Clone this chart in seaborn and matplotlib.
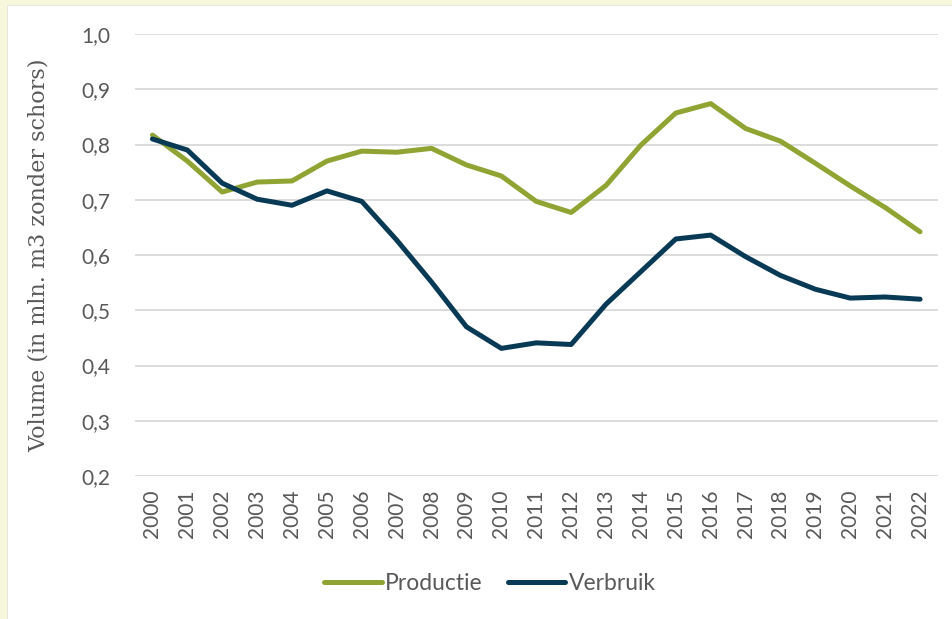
import matplotlib
matplotlib.use("Agg")
import matplotlib.pyplot as plt
import seaborn as sns
import pandas as pd
from matplotlib.patches import Rectangle
from matplotlib.ticker import FixedLocator, FuncFormatter

years = [str(y) for y in range(2000, 2023)]
productie = [0.817, 0.770, 0.714, 0.732, 0.734, 0.770, 0.788, 0.786, 0.793, 0.763,
             0.743, 0.697, 0.677, 0.726, 0.799, 0.857, 0.874, 0.829, 0.806, 0.766,
             0.725, 0.686, 0.642]
verbruik = [0.810, 0.790, 0.730, 0.701, 0.690, 0.716, 0.697, 0.627, 0.551, 0.470,
            0.431, 0.441, 0.438, 0.511, 0.570, 0.629, 0.636, 0.597, 0.563, 0.538,
            0.522, 0.524, 0.520]
series_names = ["Productie", "Verbruik"]
colors = ["#90A433", "#083A56"]
yticks = [0.2, 0.3, 0.4, 0.5, 0.6, 0.7, 0.8, 0.9, 1.0]

df = pd.DataFrame({
    "jaar": years * 2,
    "volume": productie + verbruik,
    "reeks": [series_names[0]] * len(years) + [series_names[1]] * len(years),
})

sns.set_theme(style="white")
plt.rcParams["font.family"] = ["Lato", "DejaVu Sans"]
grey = "#595959"

fig = plt.figure(figsize=(9.52, 6.19), dpi=100)
fig.patch.set_facecolor("white")
ax = fig.add_axes([135 / 952, 1 - 476 / 619, (937.5 - 135) / 952, (476 - 34) / 619])

sns.lineplot(data=df, x="jaar", y="volume", hue="reeks", palette=colors,
             linewidth=3.6, ax=ax, sort=False, legend=True)
for ln in ax.lines:
    ln.set_solid_capstyle("round")
    ln.set_solid_joinstyle("round")

ax.set_xlim(-0.5, len(years) - 0.5)
ax.set_ylim(0.2, 1.0)
ax.yaxis.set_major_locator(FixedLocator(yticks))
ax.yaxis.set_major_formatter(FuncFormatter(lambda v, p: f"{v:.1f}".replace(".", ",")))
ax.grid(axis="y", color="#D9D9D9", linewidth=1.3)
ax.set_axisbelow(True)
for s in ax.spines.values():
    s.set_visible(False)
ax.tick_params(axis="y", labelsize=15, colors=grey, length=0, pad=18)
ax.tick_params(axis="x", labelsize=15, colors=grey, length=0, pad=10, labelrotation=90)
ax.set_xlabel("")
ax.set_ylabel("Volume (in mln. m3 zonder schors)", fontsize=16, color=grey,
              family=["DejaVu Serif"])
ax.yaxis.set_label_coords(-(135 - 50) / (937.5 - 135), 0.5)

handles, labels = ax.get_legend_handles_labels()
leg = ax.legend(handles, labels, loc="center", bbox_to_anchor=(490 / 952, 1 - 584 / 619),
                bbox_transform=fig.transFigure, ncol=2, frameon=False, fontsize=16.5,
                handlelength=2.5, handletextpad=0.15, columnspacing=1.1)
for t in leg.get_texts():
    t.set_color(grey)
for h in leg.get_lines():
    h.set_linewidth(3.6)
    h.set_solid_capstyle("round")

# light yellow frame at top and left edges
fig.patches.append(Rectangle((0, 1 - 6 / 619), 1, 6 / 619, transform=fig.transFigure,
                             facecolor="#F7F7DC", edgecolor="none", zorder=-1))
fig.patches.append(Rectangle((0, 0), 7 / 952, 1, transform=fig.transFigure,
                             facecolor="#F7F7DC", edgecolor="none", zorder=-1))
fig.patches.append(Rectangle((7 / 952, 0), 1 / 952, 1 - 6 / 619, transform=fig.transFigure,
                             facecolor="#E6E6E0", edgecolor="none", zorder=-1))
fig.patches.append(Rectangle((7 / 952, 1 - 6 / 619), 1 - 7 / 952, 1 / 619, transform=fig.transFigure,
                             facecolor="#E6E6E0", edgecolor="none", zorder=-1))

fig.savefig("out.png", dpi=100)
